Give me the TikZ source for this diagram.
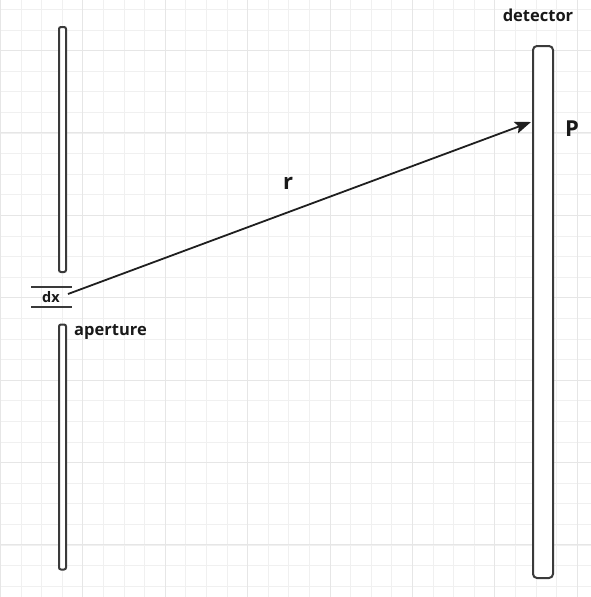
\documentclass[tikz,border=0pt]{standalone}
\usepackage{fontspec}
\setmainfont{Open Sans}
\usepackage{tikz}
\usetikzlibrary{arrows.meta,positioning}

\definecolor{gridlight}{HTML}{F0F0F0}
\definecolor{gridheavy}{HTML}{E6E6E6}
\definecolor{edge}{HTML}{3A3A3A}

\begin{document}
\begin{tikzpicture}[
  x=1pt, y=-1pt,
  gridminor/.style={draw=gridlight, line width=1pt},
  gridmajor/.style={draw=gridheavy, line width=1pt},
  barrier/.style={draw=edge, fill=white, line width=2pt, rounded corners=2pt, inner sep=0pt, minimum width=7pt},
  screen/.style={draw=edge, fill=white, line width=2pt, rounded corners=4pt, inner sep=0pt, minimum width=20pt},
  lbl/.style={font=\bfseries\fontsize{16.5}{19}\selectfont, text=black!90, inner sep=1pt},
  ray/.style={-{Stealth[length=16pt,width=12pt,inset=3pt]}, line width=1.8pt, draw=black!88}
]
  \useasboundingbox (0,0) rectangle (591,597);
  \fill[white] (0,0) rectangle (591,597);

  % grid
  \foreach \k in {0,...,28} \draw[gridminor] (0.5+\k*20.6,0) -- (0.5+\k*20.6,597);
  \foreach \k in {0,...,28} \draw[gridminor] (0,9.5+\k*20.6) -- (591,9.5+\k*20.6);
  \foreach \k in {0,...,7} \draw[gridmajor] (0.5+\k*82.4,0) -- (0.5+\k*82.4,597);
  \foreach \k in {0,...,6} \draw[gridmajor] (0,50.5+\k*82.4) -- (591,50.5+\k*82.4);

  % aperture plate and detector
  \node[barrier, minimum height=245pt] (upper) at (62.5,149.5) {};
  \node[barrier, minimum height=245pt] (lower) at (62.5,447) {};
  \node[screen, minimum height=532pt] (detector) at (543,312) {};

  % slit width
  \draw[edge, line width=2pt] (31,287) -- (72,287);
  \draw[edge, line width=2pt] (31,307) -- (72,307);
  \node[lbl, font=\bfseries\fontsize{14.5}{16}\selectfont] (dx) at (51,297) {dx};

  % ray to the point P
  \coordinate (src) at (68,294);
  \coordinate (hit) at (531,122);
  \draw[ray] (src) -- (hit);

  \node[lbl, font=\bfseries\fontsize{22}{24}\selectfont] (r) at (288,183) {r};
  \node[lbl, anchor=west] (aperture) at (73,332) {aperture};
  \node[lbl] (dettext) at (538,15) {detector};
  \node[lbl, font=\bfseries\fontsize{22}{24}\selectfont] (P) at (572,129) {P};
\end{tikzpicture}
\end{document}
